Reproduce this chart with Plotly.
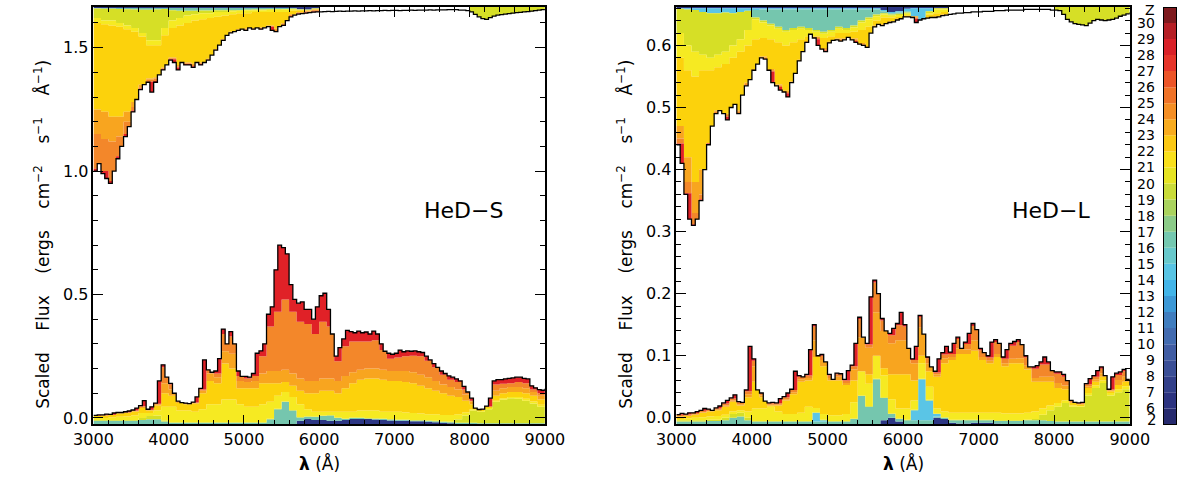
import numpy as np
import plotly.graph_objects as go

# ---------------- wavelength grids ----------------
WAVE = list(range(3000, 9001, 50))        # fine grid for the spectra (121)
WAVE_BIN = list(range(3000, 9001, 100))   # coarse grid for the element layers (61)

# ---------------- HeD-S (left panel) ----------------
HEDS_TOTAL = [
    0.010, 0.012, 0.012, 0.015, 0.014, 0.020, 0.022, 0.022, 0.025, 0.028,
    0.032, 0.040, 0.050, 0.070, 0.035, 0.045, 0.060, 0.150, 0.215, 0.165,
    0.140, 0.100, 0.068, 0.062, 0.060, 0.058, 0.064, 0.085, 0.120, 0.235,
    0.195, 0.185, 0.190, 0.240, 0.360, 0.300, 0.350, 0.300, 0.190, 0.168,
    0.168, 0.165, 0.180, 0.262, 0.272, 0.300, 0.420, 0.450, 0.600, 0.700,
    0.690, 0.665, 0.540, 0.480, 0.465, 0.470, 0.440, 0.440, 0.400, 0.450,
    0.495, 0.505, 0.440, 0.340, 0.250, 0.285, 0.320, 0.355, 0.350, 0.345,
    0.352, 0.345, 0.348, 0.340, 0.352, 0.340, 0.300, 0.270, 0.262, 0.258,
    0.262, 0.275, 0.268, 0.272, 0.270, 0.272, 0.268, 0.265, 0.250, 0.235,
    0.220, 0.205, 0.190, 0.180, 0.170, 0.165, 0.158, 0.150, 0.128, 0.105,
    0.080, 0.040, 0.034, 0.036, 0.048, 0.080, 0.150, 0.155, 0.155, 0.158,
    0.160, 0.162, 0.165, 0.165, 0.160, 0.158, 0.130, 0.122, 0.115, 0.112,
    0.118]
HEDS_ABS_EDGE = [
    1.00, 1.03, 0.99, 0.97, 0.95, 1.00, 1.05, 1.10, 1.14, 1.18,
    1.24, 1.29, 1.33, 1.35, 1.36, 1.32, 1.36, 1.39, 1.41, 1.43,
    1.45, 1.44, 1.41, 1.44, 1.43, 1.43, 1.42, 1.44, 1.43, 1.44,
    1.45, 1.47, 1.49, 1.51, 1.53, 1.55, 1.56, 1.565, 1.57, 1.575,
    1.57, 1.58, 1.575, 1.58, 1.575, 1.58, 1.585, 1.57, 1.565, 1.585,
    1.59, 1.61, 1.625, 1.632, 1.636, 1.638, 1.64, 1.642, 1.644, 1.645,
    1.645, 1.646, 1.647, 1.646, 1.647, 1.648, 1.647, 1.648, 1.648, 1.649,
    1.648, 1.649, 1.649, 1.65, 1.649, 1.65, 1.65, 1.651, 1.65, 1.651,
    1.651, 1.65, 1.651, 1.651, 1.652, 1.651, 1.652, 1.652, 1.652, 1.653,
    1.652, 1.653, 1.653, 1.653, 1.654, 1.654, 1.654, 1.652, 1.652, 1.65,
    1.645, 1.635, 1.625, 1.618, 1.615, 1.622, 1.628, 1.632, 1.634, 1.636,
    1.638, 1.64, 1.642, 1.643, 1.645, 1.646, 1.648, 1.65, 1.652, 1.654,
    1.656]

# emission layers (cumulative upper edges, coarse grid)
HEDS_EM_NAVY = [
    -0.026, -0.026, -0.026, -0.026, -0.026, -0.026, -0.026, -0.026, -0.026, -0.026,
    -0.026, -0.026, -0.026, -0.026, -0.026, -0.026, -0.026, -0.026, -0.026, -0.026,
    -0.026, -0.026, -0.026, -0.026, -0.026, -0.026, -0.026, -0.012, -0.004, -0.008,
    -0.008, -0.012, -0.012, -0.008, -0.004, -0.004, -0.004, -0.006, -0.008, -0.010,
    -0.012, -0.012, -0.014, -0.014, -0.016, -0.018, -0.020, -0.022, -0.026, -0.026,
    -0.026, -0.026, -0.026, -0.026, -0.026, -0.026, -0.026, -0.026, -0.026, -0.026,
    -0.026]
HEDS_EM_TEAL = [
    -0.012, -0.012, -0.012, -0.012, -0.012, -0.012, -0.008, -0.005, -0.005, -0.015,
    -0.020, -0.020, -0.020, -0.020, -0.020, -0.020, -0.020, -0.020, -0.020, -0.020,
    -0.020, -0.020, -0.020, -0.005, 0.035, 0.065, 0.030, 0.002, 0.005, 0.004,
    0.008, 0.010, 0.000, -0.004, 0.000, 0.000, -0.002, -0.003, -0.004, -0.006,
    -0.008, -0.008, -0.010, -0.010, -0.012, -0.014, -0.016, -0.018, -0.020, -0.020,
    -0.020, -0.022, -0.022, -0.022, -0.022, -0.022, -0.022, -0.022, -0.022, -0.022,
    -0.022]
HEDS_EM_YG = [
    -0.008, -0.008, -0.008, -0.008, -0.008, -0.008, 0.000, 0.008, 0.010, -0.010,
    -0.018, -0.018, -0.018, -0.018, -0.018, -0.018, -0.018, -0.018, -0.018, -0.018,
    -0.018, -0.018, -0.018, -0.003, 0.037, 0.067, 0.032, 0.004, 0.007, 0.006,
    0.010, 0.012, 0.002, -0.002, 0.002, 0.002, 0.000, -0.001, -0.002, -0.004,
    -0.006, -0.006, -0.008, -0.008, -0.010, -0.012, -0.014, -0.015, -0.005, 0.010,
    0.030, 0.025, 0.035, 0.065, 0.075, 0.080, 0.078, 0.070, 0.058, 0.045,
    0.035]
HEDS_EM_YELLOW = [
    0.000, 0.000, 0.002, 0.005, 0.006, 0.010, 0.020, 0.020, 0.030, 0.045,
    0.045, 0.030, 0.030, 0.025, 0.035, 0.055, 0.055, 0.075, 0.075, 0.055,
    0.045, 0.045, 0.055, 0.065, 0.090, 0.105, 0.085, 0.055, 0.035, 0.025,
    0.025, 0.025, 0.025, 0.025, 0.025, 0.030, 0.030, 0.030, 0.025, 0.025,
    0.025, 0.022, 0.020, 0.018, 0.015, 0.015, 0.012, 0.012, 0.015, 0.022,
    0.035, 0.028, 0.040, 0.070, 0.080, 0.085, 0.085, 0.078, 0.066, 0.053,
    0.045]
HEDS_EM_GOLD = [
    0.008, 0.010, 0.012, 0.018, 0.020, 0.026, 0.040, 0.030, 0.050, 0.100,
    0.090, 0.060, 0.055, 0.058, 0.100, 0.150, 0.140, 0.220, 0.200, 0.120,
    0.120, 0.120, 0.140, 0.140, 0.140, 0.145, 0.130, 0.110, 0.100, 0.100,
    0.110, 0.110, 0.100, 0.120, 0.140, 0.155, 0.160, 0.160, 0.155, 0.150,
    0.150, 0.145, 0.140, 0.130, 0.120, 0.110, 0.100, 0.090, 0.085, 0.070,
    0.055, 0.033, 0.046, 0.090, 0.100, 0.105, 0.105, 0.100, 0.090, 0.075,
    0.070]
HEDS_EM_AMBER = [
    0.009, 0.011, 0.013, 0.020, 0.022, 0.029, 0.045, 0.032, 0.055, 0.140,
    0.115, 0.064, 0.057, 0.061, 0.110, 0.180, 0.165, 0.270, 0.260, 0.150,
    0.145, 0.150, 0.180, 0.190, 0.190, 0.195, 0.180, 0.160, 0.150, 0.150,
    0.160, 0.160, 0.150, 0.170, 0.185, 0.195, 0.200, 0.200, 0.195, 0.190,
    0.190, 0.190, 0.185, 0.175, 0.165, 0.150, 0.135, 0.125, 0.115, 0.095,
    0.068, 0.033, 0.046, 0.110, 0.120, 0.125, 0.125, 0.120, 0.105, 0.090,
    0.090]
HEDS_EM_ORANGE = [
    0.009, 0.011, 0.013, 0.021, 0.023, 0.030, 0.047, 0.033, 0.057, 0.205,
    0.135, 0.066, 0.058, 0.062, 0.115, 0.195, 0.180, 0.340, 0.330, 0.170,
    0.160, 0.170, 0.250, 0.370, 0.430, 0.480, 0.430, 0.390, 0.380, 0.340,
    0.390, 0.370, 0.230, 0.290, 0.310, 0.310, 0.310, 0.315, 0.275, 0.240,
    0.245, 0.250, 0.252, 0.250, 0.232, 0.205, 0.175, 0.155, 0.145, 0.115,
    0.070, 0.033, 0.046, 0.135, 0.138, 0.140, 0.145, 0.140, 0.115, 0.100,
    0.100]

# absorption layers (upper boundary, then lower edges going downwards)
HEDS_AB_TOP = [
    1.665, 1.665, 1.665, 1.665, 1.665, 1.665, 1.665, 1.665, 1.665, 1.665,
    1.665, 1.665, 1.665, 1.665, 1.665, 1.665, 1.665, 1.665, 1.665, 1.665,
    1.665, 1.665, 1.665, 1.665, 1.665, 1.665, 1.665, 1.665, 1.665, 1.665,
    1.600, 1.600, 1.600, 1.600, 1.600, 1.600, 1.600, 1.600, 1.600, 1.600,
    1.600, 1.600, 1.600, 1.600, 1.600, 1.600, 1.600, 1.600, 1.600, 1.600,
    1.665, 1.665, 1.665, 1.665, 1.665, 1.665, 1.665, 1.665, 1.665, 1.665,
    1.665]
HEDS_AB_NAVY = [
    1.661, 1.661, 1.661, 1.661, 1.661, 1.661, 1.661, 1.661, 1.661, 1.661,
    1.661, 1.661, 1.661, 1.661, 1.661, 1.661, 1.661, 1.661, 1.661, 1.661,
    1.661, 1.661, 1.661, 1.661, 1.661, 1.661, 1.661, 1.656, 1.655, 1.660,
    1.665, 1.665, 1.665, 1.665, 1.665, 1.665, 1.665, 1.665, 1.665, 1.665,
    1.665, 1.665, 1.665, 1.665, 1.665, 1.665, 1.665, 1.665, 1.665, 1.665,
    1.665, 1.665, 1.665, 1.665, 1.665, 1.665, 1.665, 1.665, 1.665, 1.665,
    1.665]
HEDS_AB_TEAL = [
    1.659, 1.658, 1.658, 1.657, 1.656, 1.655, 1.654, 1.654, 1.655, 1.657,
    1.652, 1.650, 1.650, 1.650, 1.651, 1.651, 1.652, 1.652, 1.652, 1.653,
    1.654, 1.655, 1.655, 1.656, 1.657, 1.657, 1.658, 1.655, 1.654, 1.659,
    1.665, 1.665, 1.665, 1.665, 1.665, 1.665, 1.665, 1.665, 1.665, 1.665,
    1.665, 1.665, 1.665, 1.665, 1.665, 1.665, 1.665, 1.665, 1.665, 1.665,
    1.665, 1.665, 1.665, 1.665, 1.665, 1.665, 1.665, 1.665, 1.665, 1.665,
    1.665]
HEDS_AB_YG = [
    1.620, 1.610, 1.610, 1.600, 1.590, 1.580, 1.560, 1.530, 1.530, 1.580,
    1.610, 1.620, 1.630, 1.635, 1.640, 1.640, 1.645, 1.645, 1.648, 1.650,
    1.652, 1.652, 1.652, 1.653, 1.654, 1.655, 1.656, 1.654, 1.653, 1.657,
    1.662, 1.662, 1.662, 1.662, 1.662, 1.662, 1.662, 1.662, 1.662, 1.662,
    1.662, 1.662, 1.662, 1.662, 1.662, 1.662, 1.662, 1.662, 1.662, 1.662,
    1.600, 1.600, 1.600, 1.600, 1.600, 1.600, 1.600, 1.600, 1.600, 1.600,
    1.600]
HEDS_AB_YELLOW = [
    1.600, 1.595, 1.590, 1.585, 1.575, 1.565, 1.545, 1.510, 1.510, 1.550,
    1.580, 1.590, 1.600, 1.610, 1.615, 1.620, 1.625, 1.630, 1.635, 1.640,
    1.640, 1.645, 1.645, 1.645, 1.645, 1.645, 1.650, 1.652, 1.652, 1.655,
    1.658, 1.658, 1.658, 1.658, 1.658, 1.658, 1.658, 1.658, 1.658, 1.658,
    1.658, 1.658, 1.658, 1.658, 1.658, 1.658, 1.658, 1.658, 1.658, 1.658,
    1.600, 1.600, 1.600, 1.600, 1.600, 1.600, 1.600, 1.600, 1.600, 1.600,
    1.600]
HEDS_AB_GOLD = [
    1.250, 1.240, 1.220, 1.220, 1.240, 1.280, 1.350, 1.375, 1.380, 1.420,
    1.460, 1.430, 1.440, 1.435, 1.440, 1.455, 1.495, 1.535, 1.565, 1.575,
    1.578, 1.580, 1.582, 1.590, 1.578, 1.600, 1.635, 1.645, 1.650, 1.655,
    1.655, 1.655, 1.655, 1.655, 1.655, 1.655, 1.655, 1.655, 1.655, 1.655,
    1.655, 1.655, 1.655, 1.655, 1.655, 1.655, 1.655, 1.655, 1.655, 1.655,
    1.600, 1.600, 1.600, 1.600, 1.600, 1.600, 1.600, 1.600, 1.600, 1.600,
    1.600]
HEDS_AB_AMBER = [
    1.150, 1.130, 1.120, 1.140, 1.200, 1.260, 1.340, 1.370, 1.375, 1.417,
    1.457, 1.425, 1.437, 1.430, 1.437, 1.453, 1.493, 1.533, 1.563, 1.573,
    1.575, 1.578, 1.580, 1.588, 1.572, 1.597, 1.632, 1.642, 1.647, 1.652,
    1.652, 1.652, 1.652, 1.652, 1.652, 1.652, 1.652, 1.652, 1.652, 1.652,
    1.652, 1.652, 1.652, 1.652, 1.652, 1.652, 1.652, 1.652, 1.652, 1.652,
    1.600, 1.600, 1.600, 1.600, 1.600, 1.600, 1.600, 1.600, 1.600, 1.600,
    1.600]
HEDS_AB_ORANGE = [
    1.010, 1.000, 0.960, 1.060, 1.150, 1.245, 1.335, 1.362, 1.365, 1.413,
    1.453, 1.420, 1.434, 1.425, 1.434, 1.450, 1.490, 1.530, 1.560, 1.570,
    1.572, 1.576, 1.577, 1.585, 1.568, 1.592, 1.628, 1.639, 1.643, 1.647,
    1.649, 1.649, 1.649, 1.649, 1.649, 1.649, 1.649, 1.649, 1.649, 1.649,
    1.649, 1.649, 1.649, 1.649, 1.649, 1.649, 1.649, 1.649, 1.649, 1.649,
    1.600, 1.600, 1.600, 1.600, 1.600, 1.600, 1.600, 1.600, 1.600, 1.600,
    1.600]

# ---------------- HeD-L (right panel) ----------------
HEDL_TOTAL = [
    0.005, 0.007, 0.006, 0.008, 0.008, 0.010, 0.012, 0.015, 0.014, 0.012,
    0.016, 0.019, 0.024, 0.028, 0.032, 0.037, 0.026, 0.025, 0.045, 0.115,
    0.095, 0.045, 0.040, 0.027, 0.024, 0.025, 0.024, 0.031, 0.034, 0.040,
    0.046, 0.075, 0.068, 0.066, 0.070, 0.110, 0.150, 0.100, 0.102, 0.090,
    0.070, 0.062, 0.072, 0.071, 0.062, 0.076, 0.085, 0.120, 0.162, 0.130,
    0.120, 0.195, 0.222, 0.200, 0.160, 0.140, 0.136, 0.144, 0.152, 0.170,
    0.150, 0.112, 0.095, 0.115, 0.165, 0.135, 0.098, 0.082, 0.075, 0.095,
    0.105, 0.115, 0.106, 0.120, 0.130, 0.112, 0.122, 0.136, 0.152, 0.142,
    0.112, 0.105, 0.100, 0.122, 0.126, 0.120, 0.098, 0.110, 0.120, 0.123,
    0.126, 0.118, 0.100, 0.082, 0.082, 0.084, 0.090, 0.098, 0.090, 0.076,
    0.074, 0.074, 0.070, 0.060, 0.028, 0.025, 0.024, 0.025, 0.055, 0.063,
    0.068, 0.076, 0.082, 0.068, 0.046, 0.066, 0.072, 0.074, 0.078, 0.062,
    0.052]
HEDL_ABS_EDGE = [
    0.44, 0.41, 0.36, 0.32, 0.31, 0.32, 0.35, 0.40, 0.44, 0.47,
    0.49, 0.495, 0.49, 0.48, 0.50, 0.505, 0.49, 0.52, 0.535, 0.545,
    0.56, 0.57, 0.58, 0.578, 0.56, 0.54, 0.535, 0.528, 0.525, 0.517,
    0.54, 0.555, 0.575, 0.59, 0.605, 0.618, 0.612, 0.60, 0.594, 0.59,
    0.604, 0.608, 0.609, 0.607, 0.609, 0.613, 0.609, 0.605, 0.602, 0.60,
    0.597, 0.62, 0.63, 0.634, 0.632, 0.635, 0.637, 0.638, 0.641, 0.643,
    0.646, 0.646, 0.645, 0.637, 0.641, 0.643, 0.644, 0.645, 0.645, 0.646,
    0.648, 0.649, 0.65, 0.651, 0.652, 0.652, 0.653, 0.653, 0.654, 0.654,
    0.654, 0.655, 0.655, 0.655, 0.656, 0.656, 0.656, 0.657, 0.657, 0.657,
    0.657, 0.657, 0.658, 0.658, 0.658, 0.658, 0.658, 0.658, 0.658, 0.657,
    0.657, 0.656, 0.65, 0.642, 0.638, 0.635, 0.634, 0.633, 0.632, 0.636,
    0.64, 0.642, 0.641, 0.64, 0.641, 0.642, 0.644, 0.647, 0.649, 0.651,
    0.653]

HEDL_EM_NAVY = [
    -0.0105, -0.0105, -0.0105, -0.0105, -0.0105, -0.0105, -0.0105, -0.0105, -0.0105, -0.0105,
    -0.0105, -0.0105, -0.0105, -0.0105, -0.0105, -0.0105, -0.0105, -0.0105, -0.0105, -0.0105,
    -0.0105, -0.0105, -0.0105, -0.0105, -0.0105, -0.0105, -0.0105, -0.004, 0.000, -0.006,
    -0.0105, -0.0105, -0.0105, -0.0105, 0.000, -0.002, -0.008, -0.009, -0.009, -0.008,
    -0.008, -0.008, -0.009, -0.0105, -0.0105, -0.0105, -0.0105, -0.0105, -0.0105, -0.0105,
    -0.0105, -0.0105, -0.0105, -0.0105, -0.0105, -0.0105, -0.0105, -0.0105, -0.0105, -0.0105,
    -0.0105]
HEDL_EM_TEAL = [
    -0.006, -0.006, -0.006, -0.006, -0.005, -0.005, -0.004, 0.000, 0.002, -0.004,
    -0.006, -0.006, -0.006, -0.006, -0.006, -0.006, -0.006, -0.006, -0.006, -0.006,
    -0.006, -0.006, -0.006, -0.002, 0.035, 0.018, 0.062, 0.032, 0.006, -0.002,
    -0.004, -0.004, -0.004, -0.004, 0.002, 0.000, -0.004, -0.004, -0.004, -0.004,
    -0.004, -0.004, -0.005, -0.005, -0.005, -0.005, -0.004, -0.004, -0.004, -0.005,
    -0.006, -0.006, -0.006, -0.006, -0.006, -0.006, -0.006, -0.006, -0.006, -0.006,
    -0.006]
HEDL_EM_CYAN = [
    -0.006, -0.006, -0.006, -0.006, -0.005, -0.005, -0.004, 0.000, 0.002, -0.004,
    -0.006, -0.006, -0.006, -0.006, -0.006, -0.006, -0.006, -0.006, 0.008, -0.004,
    -0.006, -0.006, -0.006, -0.002, 0.035, 0.018, 0.062, 0.032, 0.006, -0.002,
    -0.004, 0.012, 0.062, 0.028, 0.006, 0.000, -0.004, -0.004, -0.004, -0.004,
    -0.004, -0.004, -0.005, -0.005, -0.005, -0.005, -0.004, -0.004, -0.004, -0.005,
    -0.006, -0.006, -0.006, -0.006, -0.006, -0.006, -0.006, -0.006, -0.006, -0.006,
    -0.006]
HEDL_EM_YG = [
    -0.004, -0.004, -0.004, -0.004, -0.003, -0.003, 0.000, 0.006, 0.008, 0.000,
    -0.005, -0.005, -0.005, -0.005, -0.005, -0.005, -0.005, -0.005, 0.009, -0.003,
    -0.005, -0.005, -0.005, -0.001, 0.036, 0.019, 0.063, 0.033, 0.007, -0.001,
    -0.003, 0.013, 0.063, 0.029, 0.007, 0.001, -0.003, -0.003, -0.003, -0.003,
    -0.003, -0.003, -0.004, -0.004, -0.004, -0.004, -0.003, -0.002, 0.005, 0.012,
    0.018, 0.024, 0.018, 0.018, 0.036, 0.048, 0.056, 0.036, 0.041, 0.046,
    0.041]
HEDL_EM_YELLOW = [
    -0.002, -0.001, 0.000, 0.001, 0.002, 0.003, 0.005, 0.010, 0.012, 0.010,
    0.015, 0.015, 0.018, 0.010, 0.006, 0.006, 0.008, 0.018, 0.016, 0.006,
    0.004, 0.004, 0.006, 0.025, 0.075, 0.055, 0.100, 0.068, 0.030, 0.015,
    0.015, 0.028, 0.088, 0.050, 0.015, 0.010, 0.008, 0.008, 0.008, 0.008,
    0.008, 0.008, 0.008, 0.007, 0.007, 0.007, 0.008, 0.010, 0.015, 0.020,
    0.024, 0.028, 0.020, 0.019, 0.040, 0.052, 0.060, 0.040, 0.046, 0.051,
    0.045]
HEDL_EM_GOLD = [
    0.002, 0.003, 0.005, 0.008, 0.010, 0.012, 0.018, 0.026, 0.020, 0.033,
    0.058, 0.033, 0.020, 0.020, 0.028, 0.038, 0.058, 0.060, 0.098, 0.083,
    0.060, 0.060, 0.053, 0.060, 0.070, 0.070, 0.090, 0.080, 0.070, 0.070,
    0.070, 0.060, 0.100, 0.075, 0.066, 0.088, 0.093, 0.103, 0.103, 0.108,
    0.093, 0.088, 0.098, 0.083, 0.088, 0.088, 0.078, 0.058, 0.058, 0.058,
    0.048, 0.046, 0.024, 0.022, 0.048, 0.058, 0.066, 0.043, 0.053, 0.058,
    0.048]
HEDL_EM_AMBER = [
    0.0025, 0.0035, 0.0055, 0.009, 0.011, 0.013, 0.020, 0.028, 0.022, 0.038,
    0.083, 0.036, 0.021, 0.021, 0.030, 0.041, 0.062, 0.064, 0.125, 0.093,
    0.064, 0.066, 0.056, 0.078, 0.130, 0.113, 0.170, 0.140, 0.120, 0.125,
    0.125, 0.088, 0.145, 0.088, 0.070, 0.096, 0.098, 0.112, 0.110, 0.125,
    0.098, 0.092, 0.103, 0.088, 0.095, 0.096, 0.084, 0.064, 0.066, 0.066,
    0.056, 0.052, 0.025, 0.0215, 0.051, 0.062, 0.072, 0.044, 0.061, 0.066,
    0.050]
HEDL_EM_ORANGE = [
    0.0048, 0.0058, 0.0078, 0.0115, 0.0135, 0.0155, 0.023, 0.031, 0.025, 0.043,
    0.092, 0.039, 0.0235, 0.0235, 0.033, 0.045, 0.066, 0.068, 0.147, 0.100,
    0.068, 0.070, 0.060, 0.083, 0.159, 0.118, 0.218, 0.157, 0.133, 0.149,
    0.147, 0.093, 0.162, 0.096, 0.073, 0.102, 0.103, 0.127, 0.119, 0.148,
    0.109, 0.097, 0.122, 0.095, 0.116, 0.122, 0.097, 0.079, 0.086, 0.086,
    0.071, 0.066, 0.027, 0.0235, 0.054, 0.066, 0.079, 0.0455, 0.069, 0.075,
    0.051]

HEDL_AB_TOP = [
    0.662, 0.662, 0.662, 0.662, 0.662, 0.662, 0.662, 0.662, 0.662, 0.662,
    0.662, 0.662, 0.662, 0.662, 0.662, 0.662, 0.662, 0.662, 0.662, 0.662,
    0.662, 0.662, 0.662, 0.662, 0.662, 0.662, 0.662, 0.662, 0.662, 0.662,
    0.662, 0.662, 0.662, 0.662, 0.662, 0.662, 0.600, 0.600, 0.600, 0.600,
    0.600, 0.600, 0.600, 0.600, 0.600, 0.600, 0.600, 0.600, 0.600, 0.600,
    0.662, 0.662, 0.662, 0.662, 0.662, 0.662, 0.662, 0.662, 0.662, 0.662,
    0.662]
HEDL_AB_NAVY = [
    0.660, 0.660, 0.660, 0.660, 0.660, 0.660, 0.660, 0.660, 0.660, 0.660,
    0.660, 0.660, 0.660, 0.660, 0.660, 0.660, 0.660, 0.660, 0.660, 0.660,
    0.660, 0.660, 0.660, 0.660, 0.660, 0.660, 0.660, 0.657, 0.654, 0.655,
    0.659, 0.660, 0.660, 0.660, 0.660, 0.660, 0.662, 0.662, 0.662, 0.662,
    0.662, 0.662, 0.662, 0.662, 0.662, 0.662, 0.662, 0.662, 0.662, 0.662,
    0.662, 0.662, 0.662, 0.662, 0.662, 0.662, 0.662, 0.662, 0.662, 0.662,
    0.662]
HEDL_AB_CYAN = [
    0.659, 0.658, 0.657, 0.654, 0.652, 0.652, 0.653, 0.652, 0.654, 0.656,
    0.657, 0.658, 0.658, 0.658, 0.658, 0.658, 0.658, 0.658, 0.658, 0.658,
    0.658, 0.658, 0.658, 0.658, 0.658, 0.658, 0.658, 0.655, 0.652, 0.653,
    0.655, 0.645, 0.600, 0.655, 0.660, 0.660, 0.662, 0.662, 0.662, 0.662,
    0.662, 0.662, 0.662, 0.662, 0.662, 0.662, 0.662, 0.662, 0.662, 0.662,
    0.662, 0.662, 0.662, 0.662, 0.662, 0.662, 0.662, 0.662, 0.662, 0.662,
    0.662]
HEDL_AB_TEAL = [
    0.659, 0.658, 0.657, 0.654, 0.652, 0.652, 0.653, 0.652, 0.654, 0.656,
    0.645, 0.640, 0.635, 0.630, 0.625, 0.628, 0.630, 0.628, 0.625, 0.622,
    0.625, 0.630, 0.628, 0.632, 0.640, 0.645, 0.650, 0.652, 0.650, 0.651,
    0.653, 0.645, 0.600, 0.655, 0.660, 0.660, 0.662, 0.662, 0.662, 0.662,
    0.662, 0.662, 0.662, 0.662, 0.662, 0.662, 0.662, 0.662, 0.662, 0.662,
    0.662, 0.662, 0.662, 0.662, 0.662, 0.662, 0.662, 0.662, 0.662, 0.662,
    0.662]
HEDL_AB_YG = [
    0.620, 0.600, 0.590, 0.585, 0.580, 0.585, 0.590, 0.600, 0.610, 0.625,
    0.642, 0.637, 0.632, 0.627, 0.622, 0.625, 0.627, 0.625, 0.622, 0.619,
    0.622, 0.627, 0.625, 0.629, 0.637, 0.642, 0.647, 0.650, 0.648, 0.649,
    0.651, 0.643, 0.600, 0.652, 0.658, 0.658, 0.662, 0.662, 0.662, 0.662,
    0.662, 0.662, 0.662, 0.662, 0.662, 0.662, 0.662, 0.662, 0.662, 0.662,
    0.600, 0.600, 0.600, 0.600, 0.600, 0.600, 0.600, 0.600, 0.600, 0.600,
    0.600]
HEDL_AB_YELLOW = [
    0.580, 0.560, 0.550, 0.560, 0.560, 0.565, 0.570, 0.580, 0.590, 0.600,
    0.610, 0.612, 0.610, 0.605, 0.600, 0.605, 0.610, 0.615, 0.615, 0.612,
    0.615, 0.620, 0.620, 0.622, 0.625, 0.630, 0.640, 0.645, 0.645, 0.646,
    0.648, 0.641, 0.600, 0.650, 0.652, 0.654, 0.662, 0.662, 0.662, 0.662,
    0.662, 0.662, 0.662, 0.662, 0.662, 0.662, 0.662, 0.662, 0.662, 0.662,
    0.600, 0.600, 0.600, 0.600, 0.600, 0.600, 0.600, 0.600, 0.600, 0.600,
    0.600]
HEDL_AB_GOLD = [
    0.470, 0.420, 0.380, 0.400, 0.440, 0.495, 0.490, 0.500, 0.495, 0.540,
    0.562, 0.582, 0.562, 0.537, 0.527, 0.542, 0.577, 0.607, 0.614, 0.596,
    0.606, 0.611, 0.611, 0.611, 0.604, 0.599, 0.632, 0.634, 0.639, 0.643,
    0.648, 0.647, 0.600, 0.646, 0.647, 0.650, 0.662, 0.662, 0.662, 0.662,
    0.662, 0.662, 0.662, 0.662, 0.662, 0.662, 0.662, 0.662, 0.662, 0.662,
    0.600, 0.600, 0.600, 0.600, 0.600, 0.600, 0.600, 0.600, 0.600, 0.600,
    0.600]
HEDL_AB_AMBER = [
    0.450, 0.380, 0.330, 0.360, 0.443, 0.493, 0.488, 0.498, 0.493, 0.538,
    0.560, 0.580, 0.560, 0.535, 0.525, 0.540, 0.575, 0.605, 0.612, 0.594,
    0.604, 0.609, 0.609, 0.609, 0.602, 0.597, 0.630, 0.632, 0.637, 0.641,
    0.646, 0.645, 0.600, 0.644, 0.645, 0.648, 0.662, 0.662, 0.662, 0.662,
    0.662, 0.662, 0.662, 0.662, 0.662, 0.662, 0.662, 0.662, 0.662, 0.662,
    0.600, 0.600, 0.600, 0.600, 0.600, 0.600, 0.600, 0.600, 0.600, 0.600,
    0.600]
HEDL_AB_ORANGE = [
    0.442, 0.362, 0.312, 0.352, 0.442, 0.490, 0.485, 0.495, 0.490, 0.535,
    0.558, 0.578, 0.558, 0.533, 0.523, 0.538, 0.573, 0.603, 0.610, 0.592,
    0.602, 0.607, 0.607, 0.607, 0.600, 0.595, 0.628, 0.630, 0.635, 0.639,
    0.644, 0.643, 0.600, 0.642, 0.643, 0.646, 0.662, 0.662, 0.662, 0.662,
    0.662, 0.662, 0.662, 0.662, 0.662, 0.662, 0.662, 0.662, 0.662, 0.662,
    0.600, 0.600, 0.600, 0.600, 0.600, 0.600, 0.600, 0.600, 0.600, 0.600,
    0.600]

# ---------------- colour bar (atomic number Z) ----------------
CB_EDGES = [5, 6, 7, 8, 9, 10, 11, 12, 13, 14, 15, 16, 17,
            18, 19, 20, 21, 22, 23, 24, 25, 26, 27, 28, 29, 30]
CB_COLORS = ['#262a6e', '#2c3380', '#323f89', '#3a4e96', '#405ca3', '#426bb0',
             '#407dbf', '#3c98d6', '#42b4e8', '#58c4e4', '#68c9cc', '#74c8b0',
             '#8bcb88', '#aad35e', '#c9db38', '#e6e423', '#f9e01b', '#fbc814',
             '#f8ab1e', '#f58f25', '#f07328', '#ec5528', '#e6352a', '#d92128',
             '#b51f25', '#7e1a1e']
CB_TICKVALS = [6, 7, 8, 9, 10, 11, 12, 13, 14, 15, 16, 17, 18, 19, 20,
               21, 22, 23, 24, 25, 26, 27, 28, 29, 30, 30.8]
CB_TICKTEXT = ['6', '7', '8', '9', '10', '11', '12', '13', '14', '15', '16',
               '17', '18', '19', '20', '21', '22', '23', '24', '25', '26',
               '27', '28', '29', '30', 'Z']

# layer colours
C_NAVY = '#2c3684'
C_CYAN = '#5ac5e6'
C_TEAL = '#75c6ae'
C_YG = '#d6df26'
C_Y = '#f6ea22'
C_G = '#fcd20c'
C_A = '#f8a51f'
C_O = '#f3872a'
C_R = '#e02127'

FONT = 'DejaVu Sans'
YMIN_L, YMAX_L = -0.026, 1.665
YMIN_R, YMAX_R = -0.0105, 0.662

N = len(WAVE)


def fine(a):
    return np.repeat(np.asarray(a, float), 2)[:N]


def line_trace(y, xa, ya, fill=None, fillcolor=None, color='black', width=0):
    return go.Scatter(x=WAVE, y=list(y), xaxis=xa, yaxis=ya, mode='lines',
                      line=dict(shape='hv', width=width, color=color),
                      fill=fill, fillcolor=fillcolor, showlegend=False,
                      hoverinfo='skip')


def add_emission(fig, xa, ya, ymin, layers, total):
    tot = np.asarray(total, float)
    ys = [fine(a) for a, _ in layers]
    cur = np.full(N, ymin)
    for i in range(len(ys)):
        ys[i] = np.maximum(ys[i], cur)
        cur = ys[i]
    cur = tot
    for i in reversed(range(len(ys))):
        ys[i] = np.minimum(ys[i], cur)
        cur = ys[i]
    fig.add_trace(line_trace(np.full(N, ymin), xa, ya))
    for y, (_, c) in zip(ys, layers):
        fig.add_trace(line_trace(y, xa, ya, fill='tonexty', fillcolor=c))
    fig.add_trace(line_trace(tot, xa, ya, fill='tonexty', fillcolor=C_R))
    fig.add_trace(line_trace(tot, xa, ya, color='black', width=1.3))


def add_absorption(fig, xa, ya, top_bin, layers, edge):
    e = np.asarray(edge, float)
    top = np.maximum(fine(top_bin), e)
    ys = [fine(a) for a, _ in layers]
    cur = e
    for i in reversed(range(len(ys))):
        ys[i] = np.minimum(np.maximum(ys[i], cur), top)
        cur = ys[i]
    fig.add_trace(line_trace(top, xa, ya))
    for y, (_, c) in zip(ys, layers):
        fig.add_trace(line_trace(y, xa, ya, fill='tonexty', fillcolor=c))
    fig.add_trace(line_trace(e, xa, ya, fill='tonexty', fillcolor=C_R))
    fig.add_trace(line_trace(e, xa, ya, color='black', width=1.3))


fig = go.Figure()

# left panel
add_emission(fig, 'x', 'y', YMIN_L,
             [(HEDS_EM_NAVY, C_NAVY), (HEDS_EM_TEAL, C_TEAL), (HEDS_EM_YG, C_YG),
              (HEDS_EM_YELLOW, C_Y), (HEDS_EM_GOLD, C_G), (HEDS_EM_AMBER, C_A),
              (HEDS_EM_ORANGE, C_O)], HEDS_TOTAL)
add_absorption(fig, 'x', 'y', HEDS_AB_TOP,
               [(HEDS_AB_NAVY, C_NAVY), (HEDS_AB_TEAL, C_TEAL), (HEDS_AB_YG, C_YG),
                (HEDS_AB_YELLOW, C_Y), (HEDS_AB_GOLD, C_G), (HEDS_AB_AMBER, C_A),
                (HEDS_AB_ORANGE, C_O)], HEDS_ABS_EDGE)

# right panel
add_emission(fig, 'x2', 'y2', YMIN_R,
             [(HEDL_EM_NAVY, C_NAVY), (HEDL_EM_TEAL, C_TEAL), (HEDL_EM_CYAN, C_CYAN),
              (HEDL_EM_YG, C_YG), (HEDL_EM_YELLOW, C_Y), (HEDL_EM_GOLD, C_G),
              (HEDL_EM_AMBER, C_A), (HEDL_EM_ORANGE, C_O)], HEDL_TOTAL)
add_absorption(fig, 'x2', 'y2', HEDL_AB_TOP,
               [(HEDL_AB_NAVY, C_NAVY), (HEDL_AB_CYAN, C_CYAN), (HEDL_AB_TEAL, C_TEAL),
                (HEDL_AB_YG, C_YG), (HEDL_AB_YELLOW, C_Y), (HEDL_AB_GOLD, C_G),
                (HEDL_AB_AMBER, C_A), (HEDL_AB_ORANGE, C_O)], HEDL_ABS_EDGE)

# colour bar drawn as stacked blocks between label positions
fig.add_trace(go.Bar(x=[0] * len(CB_EDGES), y=[1] * len(CB_EDGES),
                     base=CB_EDGES, width=1,
                     marker=dict(color=CB_COLORS, line=dict(width=0)),
                     xaxis='x3', yaxis='y3', showlegend=False, hoverinfo='skip'))

W, H = 1200, 479


def px_x(p):
    return p / W


def px_y(p):
    return 1 - p / H


tickfont = dict(family=FONT, size=16, color='black')
common_x = dict(range=[3000, 9000], tick0=3000, dtick=1000, ticks='inside', ticklen=10,
                tickwidth=1.2, tickcolor='black', showline=True, linecolor='black',
                linewidth=1.5, mirror='allticks', showgrid=False, zeroline=False,
                tickfont=tickfont,
                minor=dict(dtick=200, tick0=3000, ticks='inside', ticklen=5,
                           tickcolor='black', tickwidth=1))
common_y = dict(ticks='inside', ticklen=10, tickwidth=1.2, tickcolor='black',
                showline=True, linecolor='black', linewidth=1.5, mirror='allticks',
                showgrid=False, zeroline=False, tickfont=tickfont, tickformat='.1f')

ydom = [px_y(427), px_y(7)]
fig.update_layout(
    width=W, height=H, margin=dict(l=0, r=0, t=0, b=0),
    paper_bgcolor='white', plot_bgcolor='white', showlegend=False,
    xaxis=dict(domain=[px_x(76), px_x(543)], anchor='y', **common_x),
    yaxis=dict(domain=ydom, anchor='x', range=[YMIN_L, YMAX_L], tick0=0, dtick=0.5,
               minor=dict(dtick=0.1, tick0=0, ticks='inside', ticklen=5,
                          tickcolor='black', tickwidth=1), **common_y),
    xaxis2=dict(domain=[px_x(679), px_x(1148)], anchor='y2', **common_x),
    yaxis2=dict(domain=ydom, anchor='x2', range=[YMIN_R, YMAX_R], tick0=0, dtick=0.1,
                minor=dict(dtick=0.02, tick0=0, ticks='inside', ticklen=5,
                           tickcolor='black', tickwidth=1), **common_y),
    xaxis3=dict(domain=[px_x(1183), px_x(1196)], anchor='y3', range=[-0.5, 0.5],
                showticklabels=False, ticks='', showline=True, linecolor='black',
                linewidth=1, mirror=True, showgrid=False, zeroline=False, fixedrange=True),
    yaxis3=dict(domain=[px_y(427), px_y(8)], anchor='x3', range=[5.01, 30.93],
                showticklabels=False, ticks='', showline=True, linecolor='black',
                linewidth=1, mirror=True, showgrid=False, zeroline=False),
)

SP = '\u00a0\u00a0\u00a0\u00a0'
ytitle = ('Scaled' + SP + 'Flux' + SP + '(ergs' + SP + 'cm<sup>\u22122</sup>' + SP +
          's<sup>\u22121</sup>' + SP + '\u00c5<sup>\u22121</sup>)')
anns = [
    dict(text='HeD\u2212S', x=px_x(459), y=px_y(212), font=dict(family=FONT, size=22)),
    dict(text='HeD\u2212L', x=px_x(1067), y=px_y(212), font=dict(family=FONT, size=22)),
    dict(text='<b>\u03bb</b>\u00a0(\u00c5)', x=px_x(309.5), y=px_y(466), font=dict(family=FONT, size=17)),
    dict(text='<b>\u03bb</b>\u00a0(\u00c5)', x=px_x(913.5), y=px_y(466), font=dict(family=FONT, size=17)),
    dict(text=ytitle, x=px_x(22), y=px_y(236), textangle=-90, font=dict(family=FONT, size=17)),
    dict(text=ytitle, x=px_x(625), y=px_y(236), textangle=-90, font=dict(family=FONT, size=17)),
    dict(text='2', x=px_x(1171), y=px_y(423), font=dict(family=FONT, size=15)),
]
for a in anns:
    a.update(xref='paper', yref='paper', showarrow=False, xanchor='center',
             yanchor='middle')
    a['font']['color'] = 'black'

# colour-bar labels, placed through the colour-bar axes
for val, txt in zip(CB_TICKVALS, CB_TICKTEXT):
    anns.append(dict(text=txt, x=-0.5, y=val, xref='x3', yref='y3', showarrow=False,
                     xanchor='right', yanchor='middle', xshift=-7,
                     font=dict(family=FONT, size=14, color='black')))
fig.update_layout(annotations=anns)

fig.write_html('out.html')
